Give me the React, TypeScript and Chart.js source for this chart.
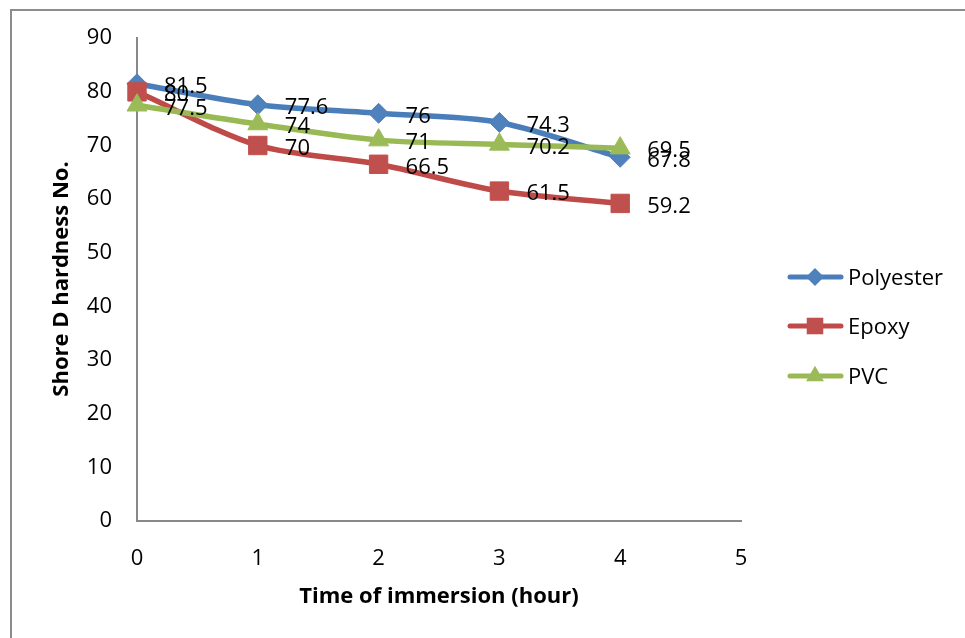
import React, { useEffect, useRef } from "react";
import { Chart, registerables } from "chart.js";

Chart.register(...registerables);

const hours = [0, 1, 2, 3, 4];
const polyester = [81.5, 77.6, 76, 74.3, 67.8];
const epoxy = [80, 70, 66.5, 61.5, 59.2];
const pvc = [77.5, 74, 71, 70.2, 69.5];
const seriesNames = ["Polyester", "Epoxy", "PVC"];
const xTitle = "Time of immersion (hour)";
const yTitle = "Shore D hardness No.";

const FONT = "'Open Sans', 'Noto Sans', sans-serif";

const lineColors = ["#4A7EBB", "#BE4B48", "#98B954"];
const fillColors = ["#4F81BD", "#C0504D", "#9BBB59"];
const styles = ["rectRot", "rect", "triangle"];
const radii = [10, 13, 11.5];

function drawMarker(ctx: CanvasRenderingContext2D, style: string, x: number, y: number, r: number) {
  ctx.beginPath();
  if (style === "rectRot") {
    ctx.moveTo(x, y - r);
    ctx.lineTo(x + r, y);
    ctx.lineTo(x, y + r);
    ctx.lineTo(x - r, y);
  } else if (style === "rect") {
    const s = r * Math.SQRT1_2;
    ctx.rect(x - s, y - s, 2 * s, 2 * s);
  } else {
    ctx.moveTo(x, y - r);
    ctx.lineTo(x + r * 0.866, y + r * 0.5);
    ctx.lineTo(x - r * 0.866, y + r * 0.5);
  }
  ctx.closePath();
  ctx.fill();
}

const decorPlugin = {
  id: "decor",
  beforeDraw(chart: any) {
    const ctx = chart.ctx;
    ctx.save();
    ctx.fillStyle = "#ffffff";
    ctx.fillRect(0, 0, chart.width, chart.height);
    ctx.strokeStyle = "#8c8c8c";
    ctx.lineWidth = 2;
    ctx.strokeRect(11, 10, 1200, 1000);
    ctx.restore();
  },
  afterDatasetsDraw(chart: any) {
    const ctx = chart.ctx;
    ctx.save();
    // data labels
    ctx.font = `22px ${FONT}`;
    ctx.fillStyle = "#000";
    ctx.textAlign = "left";
    ctx.textBaseline = "middle";
    chart.data.datasets.forEach((ds: any, i: number) => {
      const meta = chart.getDatasetMeta(i);
      meta.data.forEach((pt: any, j: number) => {
        ctx.fillText(String(ds.data[j].y), pt.x + 27, pt.y + 3);
      });
    });
    // axis titles
    ctx.font = `bold 22px ${FONT}`;
    ctx.textAlign = "center";
    ctx.fillText(xTitle, 439, 597);
    ctx.save();
    ctx.translate(62, 279);
    ctx.rotate(-Math.PI / 2);
    ctx.fillText(yTitle, 0, 0);
    ctx.restore();
    // legend
    const ys = [277, 326, 376];
    seriesNames.forEach((name, i) => {
      const y = ys[i];
      ctx.strokeStyle = lineColors[i];
      ctx.lineWidth = 5;
      ctx.lineCap = "round";
      ctx.beginPath();
      ctx.moveTo(790, y);
      ctx.lineTo(841, y);
      ctx.stroke();
      ctx.fillStyle = fillColors[i];
      drawMarker(ctx, styles[i], 815, y, radii[i] * 0.9);
      ctx.fillStyle = "#000";
      ctx.font = `22px ${FONT}`;
      ctx.textAlign = "left";
      ctx.textBaseline = "middle";
      ctx.fillText(name, 848, y + 2);
    });
    ctx.restore();
  },
};

export default function App() {
  const ref = useRef<HTMLCanvasElement>(null);
  useEffect(() => {
    const mk = (vals: number[]) => hours.map((h, i) => ({ x: h, y: vals[i] }));
    const all = [polyester, epoxy, pvc];
    const chart = new Chart(ref.current!, {
      type: "line",
      data: {
        datasets: all.map((vals, i) => ({
          label: seriesNames[i],
          data: mk(vals),
          borderColor: lineColors[i],
          backgroundColor: fillColors[i],
          pointBackgroundColor: fillColors[i],
          pointBorderColor: fillColors[i],
          borderWidth: 5.5,
          pointStyle: styles[i] as any,
          pointRadius: radii[i],
          pointBorderWidth: 1,
          tension: 0.3,
          order: 3 - i,
          clip: false as any,
        })),
      },
      options: {
        animation: false,
        responsive: false,
        devicePixelRatio: 1,
        layout: { padding: { left: 0, top: 38, right: 224, bottom: 0 } },
        plugins: { legend: { display: false }, tooltip: { enabled: false } },
        scales: {
          x: {
            type: "linear",
            min: 0,
            max: 5,
            grid: { display: false, drawTicks: false },
            border: { display: true, color: "#888888", width: 2 },
            ticks: { stepSize: 1, padding: 25, color: "#000", font: { family: FONT, size: 22 } },
            afterFit: (s: any) => {
              s.height = 117;
            },
          },
          y: {
            min: 0,
            max: 90,
            grid: { display: false, drawTicks: false },
            border: { display: true, color: "#888888", width: 2 },
            ticks: { stepSize: 10, padding: 25, color: "#000", font: { family: FONT, size: 22 } },
            afterFit: (s: any) => {
              s.width = 137;
            },
          },
        },
      },
      plugins: [decorPlugin],
    });
    return () => chart.destroy();
  }, []);
  return (
    <div style={{ position: "fixed", left: 0, top: 0, width: 965, height: 638, background: "#fff" }}>
      <canvas ref={ref} width={965} height={638} style={{ width: 965, height: 638, display: "block" }} />
    </div>
  );
}
